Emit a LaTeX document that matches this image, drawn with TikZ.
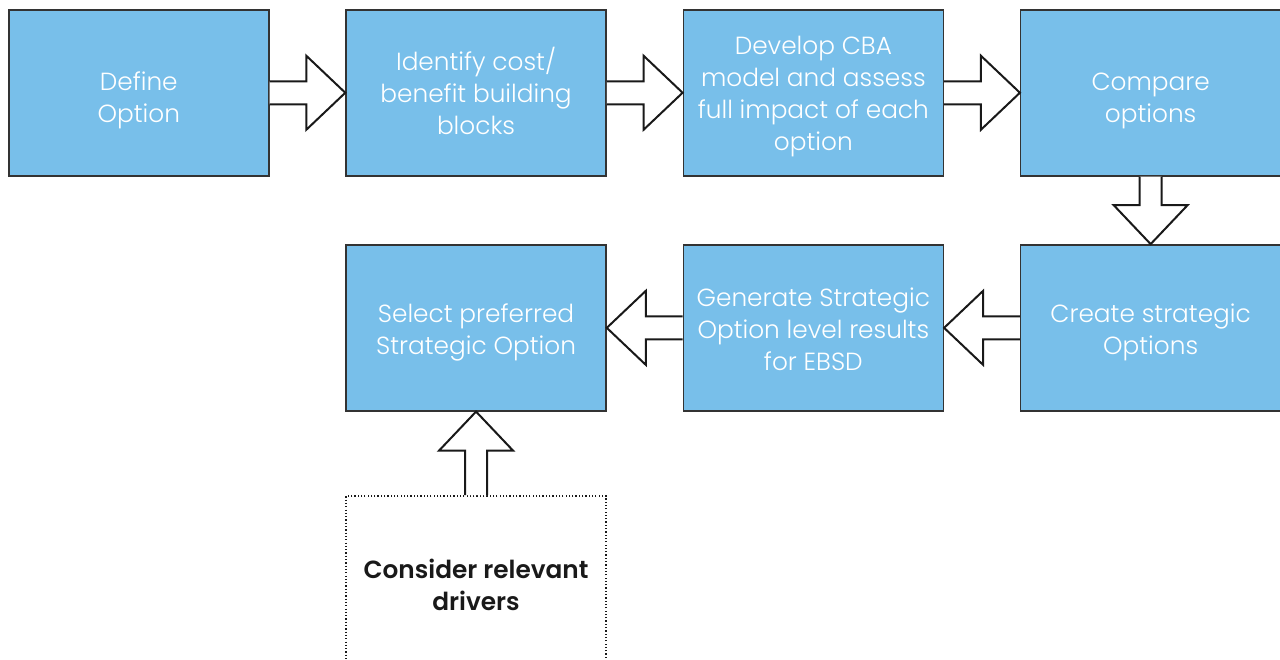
\documentclass[tikz,border=0pt]{standalone}
\usepackage{fontspec}
\setmainfont{Poppins}[UprightFont=* Light,BoldFont=* SemiBold]
\usetikzlibrary{positioning,calc}
\definecolor{boxblue}{RGB}{120,191,234}
% fixed line boxes: top strut on first line, bottom strut on last line
\newcommand{\tstrut}[1][15pt]{\rule{0pt}{#1}}
\newcommand{\bstrut}{\rule[-4.8pt]{0pt}{0pt}}
\tikzset{
  stepbox/.style={draw=black!80,line width=0.75pt,fill=boxblue,text=white,minimum width=130pt,minimum height=83pt,inner sep=0pt,align=center,font=\fontsize{12.4}{16}\selectfont},
  drivbox/.style={draw=black!90,line width=0.7pt,dash pattern=on 0.6pt off 1.05pt,minimum width=130pt,minimum height=83pt,inner sep=0pt,align=center,text=black!90,font=\fontsize{12.4}{16}\selectfont\bfseries},
  blockarrow/.style={draw=black!90,line width=1pt,fill=white,line join=miter}
}
% block arrows: #1 start, #2 tip, #3 = 1 (right/down) or -1 (left/up)
\newcommand{\hblockarrow}[3]{\draw[blockarrow] ($(#1)+(0,-11.5)$) -- ($(#2)+({-39*(#3)},-11.5)$) -- ($(#2)+({-39*(#3)},-37)$) -- (#2) -- ($(#2)+({-39*(#3)},37)$) -- ($(#2)+({-39*(#3)},11.5)$) -- ($(#1)+(0,11.5)$);}
\newcommand{\vblockarrow}[3]{\draw[blockarrow] ($(#1)+(-11,0)$) -- ($(#2)+(-11,{-39*(#3)})$) -- ($(#2)+(-37,{-39*(#3)})$) -- (#2) -- ($(#2)+(37,{-39*(#3)})$) -- ($(#2)+(11,{-39*(#3)})$) -- ($(#1)+(11,0)$);}
\begin{document}
\begin{tikzpicture}[x=0.5pt,y=-0.5pt]
 \useasboundingbox (0,0) rectangle (1280,659);
 % top row
 \node[stepbox] (define) at (138.75,92.75) {\tstrut[18.8pt]Define\\Option\bstrut};
 \node[stepbox,right=37.9pt of define] (blocks) {\tstrut Identify cost/\\benefit building\\blocks\bstrut};
 \node[stepbox,right=37.9pt of blocks] (cba) {\tstrut Develop CBA\\model and assess\\full impact of each\\option\bstrut};
 \node[stepbox,right=37.9pt of cba] (compare) {\tstrut[18.8pt]Compare\\options\bstrut};
 % bottom row
 \node[stepbox,below=33.8pt of compare] (create) {\tstrut Create strategic\\Options\bstrut};
 \node[stepbox,left=37.9pt of create] (generate) {\tstrut Generate Strategic\\Option level results\\for EBSD\bstrut};
 \node[stepbox,left=37.9pt of generate] (select) {\tstrut Select preferred\\Strategic Option\bstrut};
 \node[drivbox,below=41.8pt of select] (drivers) {\tstrut[20pt]Consider relevant\\drivers\bstrut};
 % arrows
 \hblockarrow{define.east}{blocks.west}{1}
 \hblockarrow{blocks.east}{cba.west}{1}
 \hblockarrow{cba.east}{compare.west}{1}
 \vblockarrow{compare.south}{create.north}{1}
 \hblockarrow{create.west}{generate.east}{-1}
 \hblockarrow{generate.west}{select.east}{-1}
 \vblockarrow{drivers.north}{select.south}{-1}
\end{tikzpicture}
\end{document}
